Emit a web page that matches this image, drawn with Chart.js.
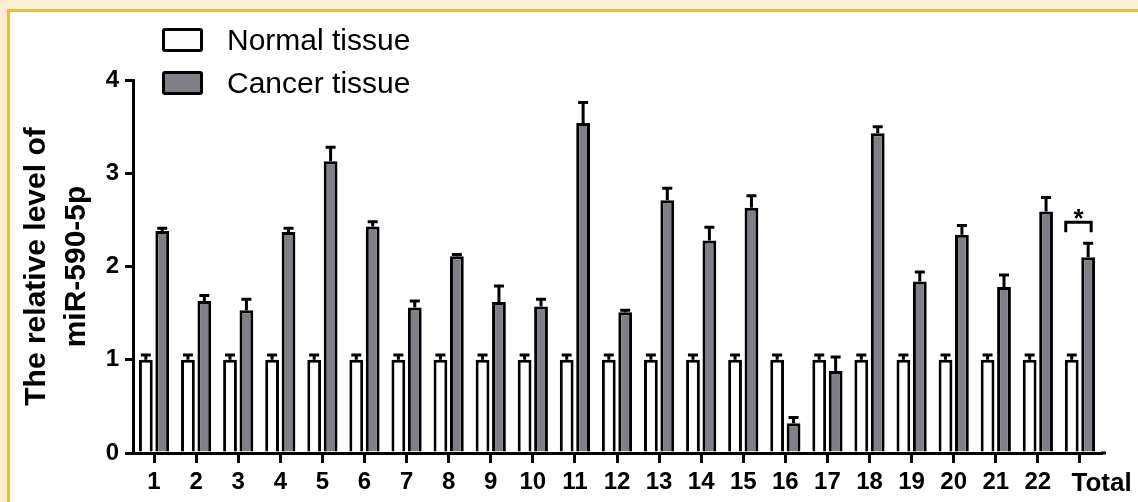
<!DOCTYPE html>
<html>
<head>
<meta charset="utf-8">
<script src="https://cdn.jsdelivr.net/npm/chart.js@4.4.0/dist/chart.umd.min.js"></script>
<style>
  html, body { margin: 0; padding: 0; }
  body { width: 1138px; height: 502px; background: #fdefcf; overflow: hidden; position: relative;
         font-family: "Liberation Sans", Arial, sans-serif; }
  #frame { position: absolute; left: 7px; top: 9px; width: 1140px; height: 500px; background: #fff;
           border-left: 3px solid #f3c11b; border-top: 3px solid #f3c11b; }
  #wrap { position: absolute; left: 0; top: 0; width: 1138px; height: 502px; }
  #over { position: absolute; left: 0; top: 0; width: 1138px; height: 502px; pointer-events: none; }
  #legend { position: absolute; left: 160px; top: 26px; width: 270px; padding: 2px; background: #fff; }
  #legend .row { display: flex; align-items: center; height: 24px; margin-bottom: 19px; }
  #legend .row:last-child { margin-bottom: 0; }
  #legend .box { width: 35px; height: 18px; border: 3px solid #000; border-radius: 3px; margin-right: 24px; }
  #legend .lab { font-size: 30px; line-height: 24px; color: #000; white-space: nowrap; }
</style>
</head>
<body>
<div id="frame"></div>
<div id="wrap"><canvas id="chart" width="1138" height="502"></canvas></div>
<canvas id="over" width="1138" height="502"></canvas>
<div id="legend"></div>
<script>
// values
var categories = ['1', '2', '3', '4', '5', '6', '7', '8', '9', '10', '11', '12',
                  '13', '14', '15', '16', '17', '18', '19', '20', '21', '22', 'Total'];
var seriesNames = ['Normal tissue', 'Cancer tissue'];
var normalValues = [1, 1, 1, 1, 1, 1, 1, 1, 1, 1, 1, 1, 1, 1, 1, 1, 1, 1, 1, 1, 1, 1, 1];
var normalErrors = [0.05, 0.05, 0.05, 0.05, 0.05, 0.05, 0.05, 0.05, 0.05, 0.05, 0.05, 0.05,
                    0.05, 0.05, 0.05, 0.05, 0.05, 0.05, 0.05, 0.05, 0.05, 0.05, 0.05];
var cancerValues = [2.38, 1.63, 1.53, 2.37, 3.13, 2.43, 1.56, 2.11, 1.62, 1.57, 3.54, 1.51,
                    2.71, 2.28, 2.63, 0.32, 0.88, 3.43, 1.84, 2.34, 1.78, 2.59, 2.10];
var cancerErrors = [0.03, 0.06, 0.12, 0.04, 0.15, 0.05, 0.07, 0.02, 0.17, 0.08, 0.22, 0.02,
                    0.13, 0.14, 0.13, 0.06, 0.15, 0.07, 0.10, 0.10, 0.13, 0.15, 0.15];
var yTicks = [0, 1, 2, 3, 4];
var yTitle = ['The relative level of', 'miR-590-5p'];
var starCategory = 'Total';
var starText = '*';

var FONT = '"Liberation Sans", Arial, sans-serif';
Chart.defaults.font.family = FONT;
Chart.defaults.color = '#000';

var chart = new Chart(document.getElementById('chart'), {
  type: 'bar',
  data: {
    labels: categories,
    datasets: [
      {
        label: seriesNames[0],
        data: normalValues,
        errors: normalErrors,
        backgroundColor: '#ffffff',
        borderColor: '#000',
        borderWidth: 3,
        categoryPercentage: 0.78,
        barPercentage: 0.84
      },
      {
        label: seriesNames[1],
        data: cancerValues,
        errors: cancerErrors,
        backgroundColor: '#7f7f87',
        borderColor: '#000',
        borderWidth: 3,
        categoryPercentage: 0.78,
        barPercentage: 0.84
      }
    ]
  },
  options: {
    responsive: false,
    devicePixelRatio: 1,
    animation: false,
    layout: { padding: { top: 80, right: 37, bottom: 0, left: 0 } },
    plugins: {
      legend: { display: false },
      tooltip: { enabled: false }
    },
    scales: {
      x: {
        grid: { offset: false, drawOnChartArea: false, drawTicks: true, tickLength: 10, lineWidth: 3, color: '#000' },
        border: { display: true, width: 3, color: '#000' },
        ticks: {
          color: '#000',
          padding: 5,
          maxRotation: 0,
          autoSkip: false,
          font: function(c) { return { size: c.index === categories.length - 1 ? 26 : 24, weight: 'bold' }; },
          callback: function(value, index) {
            var lab = this.getLabelForValue(value);
            return index === categories.length - 1 ? '      ' + lab : lab;
          }
        },
        afterFit: function(scale) { scale.height = 49; }
      },
      y: {
        min: yTicks[0],
        max: yTicks[yTicks.length - 1],
        afterBuildTicks: function(scale) {
          scale.ticks = yTicks.map(function(v) { return { value: v }; });
        },
        grid: { drawOnChartArea: false, drawTicks: true, tickLength: 8, lineWidth: 3, color: '#000' },
        border: { display: true, width: 3, color: '#000' },
        ticks: { color: '#000', padding: 6, font: { size: 24, weight: 'bold' } },
        title: {
          display: true,
          text: yTitle,
          color: '#000',
          font: { size: 30, weight: 'bold', lineHeight: 1.35 },
          padding: { top: 16, bottom: 0 }
        },
        afterFit: function(scale) { scale.width = 133; }
      }
    }
  }
});

// error bars and the significance bracket, placed with the chart's own scale and bar positions
var ys = chart.scales.y;
var area = chart.chartArea;
var ctx = document.getElementById('over').getContext('2d');
ctx.strokeStyle = '#000';
ctx.fillStyle = '#000';
ctx.lineWidth = 3;
chart.data.datasets.forEach(function(ds, i) {
  chart.getDatasetMeta(i).data.forEach(function(bar, j) {
    var top = ys.getPixelForValue(ds.data[j] + ds.errors[j]);
    var base = ys.getPixelForValue(ds.data[j]);
    ctx.beginPath();
    ctx.moveTo(bar.x, base);
    ctx.lineTo(bar.x, top);
    ctx.moveTo(bar.x - 5, top);
    ctx.lineTo(bar.x + 5, top);
    ctx.stroke();
  });
});
// the original x axis runs a little past the last category
ctx.fillRect(area.right, area.bottom - 1.5, 5, 3);

var k = categories.indexOf(starCategory);
var n = chart.getDatasetMeta(0).data[k];
var c = chart.getDatasetMeta(1).data[k];
var ds1 = chart.data.datasets[1];
var yTop = ys.getPixelForValue(ds1.data[k] + ds1.errors[k]) - 21;
var x1 = n.x - 6, x2 = c.x + 3;
ctx.beginPath();
ctx.moveTo(x1, yTop + 10);
ctx.lineTo(x1, yTop);
ctx.lineTo(x2, yTop);
ctx.lineTo(x2, yTop + 10);
ctx.stroke();
ctx.font = 'bold 26px ' + FONT;
ctx.textAlign = 'center';
ctx.fillText(starText, (x1 + x2) / 2, yTop + 5);

// html legend built from the chart's datasets (two rows, as in the figure)
var legendDiv = document.getElementById('legend');
chart.data.datasets.forEach(function(ds) {
  var row = document.createElement('div');
  row.className = 'row';
  var box = document.createElement('span');
  box.className = 'box';
  box.style.background = ds.backgroundColor;
  var lab = document.createElement('span');
  lab.className = 'lab';
  lab.textContent = ds.label;
  row.appendChild(box);
  row.appendChild(lab);
  legendDiv.appendChild(row);
});
</script>
</body>
</html>
